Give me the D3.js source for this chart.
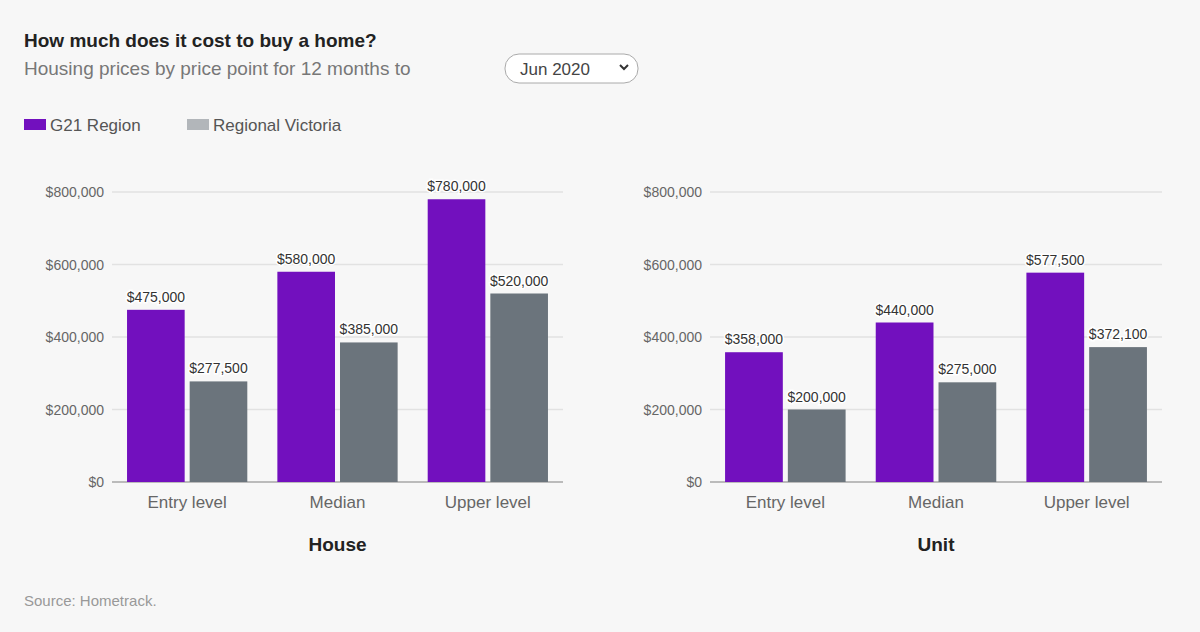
<!DOCTYPE html>
<html><head><meta charset="utf-8">
<script src="https://cdn.jsdelivr.net/npm/d3@7"></script>
<style>body{margin:0;background:#f7f7f7;font-family:"Liberation Sans",Arial,sans-serif}</style>
</head><body><svg id="c" width="1200" height="632"></svg>
<script>
const categories=["Entry level","Median","Upper level"];
const seriesNames=["G21 Region","Regional Victoria"];
const houseG21=[475000,580000,780000];
const houseVic=[277500,385000,520000];
const unitG21=[358000,440000,577500];
const unitVic=[200000,275000,372100];
const yTicks=[0,200000,400000,600000,800000];
const colors=["#7210be","#6b747c"];
const legendColors=["#7210be","#b2b6ba"];

const svg=d3.select("#c");
svg.append("rect").attr("width",1200).attr("height",632).attr("fill","#f7f7f7");
svg.append("text").attr("x",24).attr("y",47).attr("font-size",19).attr("font-weight","bold").attr("fill","#222").text("How much does it cost to buy a home?");
svg.append("text").attr("x",24).attr("y",75).attr("font-size",19).attr("fill","#777").text("Housing prices by price point for 12 months to");
svg.append("rect").attr("x",505).attr("y",54).attr("width",133).attr("height",29).attr("rx",14).attr("fill","#fff").attr("stroke","#aaa");
svg.append("text").attr("x",520).attr("y",75).attr("font-size",17).attr("fill","#444").text("Jun 2020");
svg.append("path").attr("d","M620,65 l4,4 l4,-4").attr("fill","none").attr("stroke","#333").attr("stroke-width",2);
const lg=[[24,"G21 Region"],[187,"Regional Victoria"]];
lg.forEach((l,i)=>{
 svg.append("rect").attr("x",l[0]).attr("y",119).attr("width",22).attr("height",11).attr("fill",legendColors[i]);
 svg.append("text").attr("x",l[0]+26).attr("y",131).attr("font-size",17).attr("fill","#555").text(seriesNames[i]);
});

function panel(x0,x1,a,b,title){
 const y=d3.scaleLinear().domain([0,800000]).range([482,192]);
 const g=svg.append("g");
 yTicks.forEach(t=>{
  g.append("line").attr("x1",x0).attr("x2",x1).attr("y1",y(t)).attr("y2",y(t)).attr("stroke",t===0?"#bbb":"#e2e2e2").attr("stroke-width",t===0?2:1.5);
  g.append("text").attr("x",x0-8).attr("y",y(t)+5).attr("text-anchor","end").attr("font-size",14).attr("fill","#666").text(d3.format("$,")(t));
 });
 const xb=d3.scaleBand().domain(categories).range([x0,x1]).paddingInner(0.2).paddingOuter(0.1);
 const xs=d3.scaleBand().domain([0,1]).range([0,xb.bandwidth()]).paddingInner(0.08);
 categories.forEach((c,i)=>{
  [a[i],b[i]].forEach((v,j)=>{
   const bx=xb(c)+xs(j);
   g.append("rect").attr("x",bx).attr("y",y(v)).attr("width",xs.bandwidth()).attr("height",482-y(v)).attr("fill",colors[j]);
   g.append("text").attr("x",bx+xs.bandwidth()/2).attr("y",y(v)-8).attr("text-anchor","middle").attr("font-size",14).attr("fill","#333")
    .attr("stroke","#fff").attr("stroke-width",3).attr("paint-order","stroke").text(d3.format("$,")(v));
  });
  g.append("text").attr("x",xb(c)+xb.bandwidth()/2).attr("y",508).attr("text-anchor","middle").attr("font-size",17).attr("fill","#666").text(c);
 });
 g.append("text").attr("x",(x0+x1)/2).attr("y",551).attr("text-anchor","middle").attr("font-size",19).attr("font-weight","bold").attr("fill","#222").text(title);
}
panel(112,563,houseG21,houseVic,"House");
panel(710,1162,unitG21,unitVic,"Unit");
svg.append("text").attr("x",24).attr("y",606).attr("font-size",15).attr("fill","#999").text("Source: Hometrack.");
</script></body></html>
